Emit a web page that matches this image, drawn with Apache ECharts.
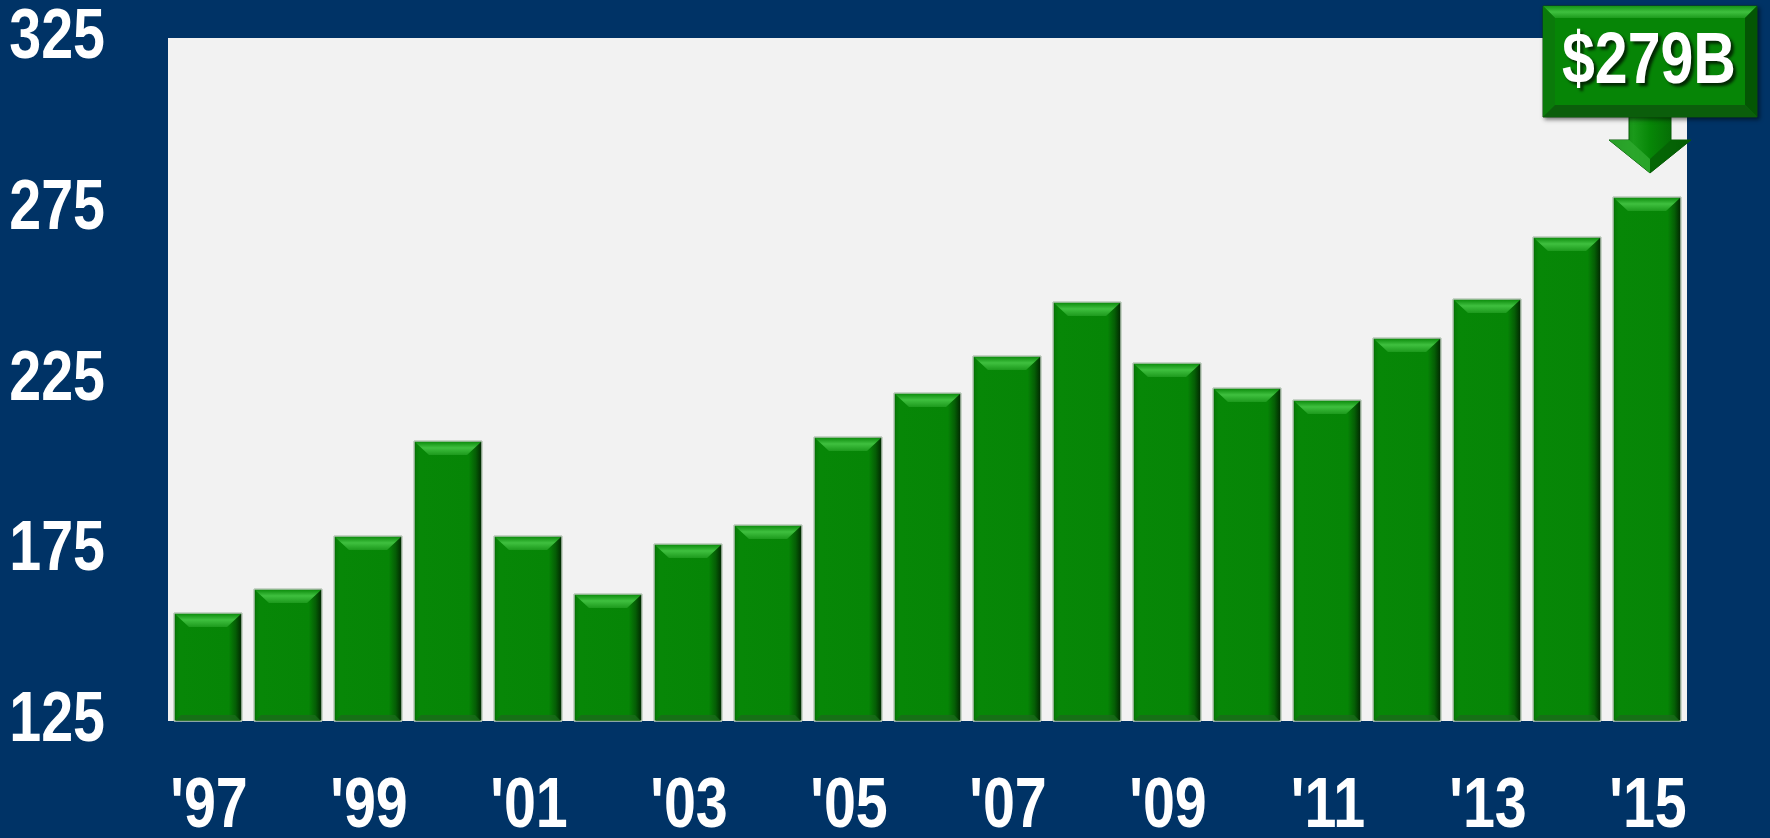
<!DOCTYPE html>
<html>
<head>
<meta charset="utf-8">
<script src="https://cdn.jsdelivr.net/npm/echarts@6/dist/echarts.min.js"></script>
<style>
html,body{margin:0;padding:0;background:#003366;}
#chart{width:1770px;height:838px;}
</style>
</head>
<body>
<div id="chart"></div>
<script>
const years = ["'97","'98","'99","'00","'01","'02","'03","'04","'05","'06","'07","'08","'09","'10","'11","'12","'13","'14","'15"];
const values = [156.5, 163.6, 179.1, 207.1, 179.1, 162.1, 176.7, 182.5, 208.1, 221.1, 231.8, 247.8, 229.7, 222.4, 219.0, 237.2, 248.5, 266.6, 278.5];
const yTicks = [125, 175, 225, 275, 325];
const calloutLabel = '$279B';

const FONT = "'Liberation Sans','Arimo',Arial,sans-serif";
const NARROW = 0.82; // Arial Narrow ≈ Arial condensed horizontally
const chart = echarts.init(document.getElementById('chart'), null, {renderer:'canvas'});

function barShapes(x0, x1, yTop, yBot) {
  const w = x1 - x0, h = yBot - yTop;
  const b = Math.min(14, h / 2);
  const bb = Math.min(6, h / 4);
  return [
    {type:'rect', shape:{x:x0, y:yTop, width:w, height:h},
     style:{fill:new echarts.graphic.LinearGradient(0,0,1,0,[
       {offset:0,color:'#045a04'},{offset:0.04,color:'#067e06'},{offset:0.09,color:'#078707'},
       {offset:0.80,color:'#068506'},{offset:0.90,color:'#055e05'},{offset:1,color:'#011f01'}]),
       stroke:'#b9c9b9', lineWidth:1}},
    {type:'polygon', shape:{points:[[x0+1,yTop+1],[x1-1,yTop+1],[x1-1-b,yTop+b],[x0+1+b,yTop+b]]},
     style:{fill:new echarts.graphic.LinearGradient(0,0,0,1,[
       {offset:0,color:'#0f8f0f'},{offset:0.45,color:'#3fc03f'},{offset:1,color:'#1d9a1d'}])}},
    {type:'polygon', shape:{points:[[x0+1,yBot],[x1-1,yBot],[x1-1-bb,yBot-bb],[x0+1+bb,yBot-bb]]},
     style:{fill:'#1a6a1a', opacity:0.8}}
  ];
}

const option = {
  backgroundColor:'#003366',
  animation:false,
  grid:{left:168, right:83, top:38, bottom:117, show:true, backgroundColor:'#f2f2f2', borderWidth:0,
        containLabel:false, outerBoundsMode:'none'},
  xAxis:{
    type:'category', data:years,
    axisLine:{show:false}, axisTick:{show:false}, splitLine:{show:false},
    axisLabel:{show:false}
  },
  yAxis:{
    type:'value', min:125, max:325, interval:50,
    axisLine:{show:false}, axisTick:{show:false}, splitLine:{show:false},
    axisLabel:{show:false}
  },
  series:[{
    type:'custom',
    data: values.map(function(v,i){ return [i, v]; }),
    encode:{x:0, y:1},
    renderItem:function(params, api){
      const top = api.coord([api.value(0), api.value(1)]);
      const bot = api.coord([api.value(0), 125]);
      const w = api.size([1,0])[0] * 0.85;
      const x0 = Math.round(top[0] - w/2), x1 = Math.round(top[0] + w/2);
      return {type:'group', children: barShapes(x0, x1, Math.round(top[1]), Math.round(bot[1]))};
    }
  }]
};
chart.setOption(option);

const graphics = [];
// y tick labels (condensed bold, like Arial Narrow Bold)
yTicks.forEach(function(v){
  const y = chart.convertToPixel({yAxisIndex:0}, v);
  graphics.push({type:'text', x:105, y:Math.round(y) + 1, scaleX:NARROW, z:40,
    style:{text:String(v), fill:'#ffffff', font:'bold 70px ' + FONT, align:'right', verticalAlign:'middle'}});
});
// x category labels, every other year
years.forEach(function(c, i){
  if (i % 2 !== 0) return;
  const x = chart.convertToPixel({xAxisIndex:0}, c);
  graphics.push({type:'text', x:Math.round(x) + 1, y:808, scaleX:NARROW, z:40,
    style:{text:c, fill:'#ffffff', font:'bold 70px ' + FONT, align:'center', verticalAlign:'middle'}});
});

// callout over the last bar
const li = values.length - 1;
const p = chart.convertToPixel({xAxisIndex:0, yAxisIndex:0}, [li, values[li]]);
const cx = Math.round(p[0]) + 3, barTop = p[1];
const bw = 214, bh = 111;
const bx = cx - bw/2, by = Math.round(barTop - 80 - bh);
const tipY = Math.round(barTop - 24);
const bev = 12;
graphics.push(
    {type:'polygon', z:50,
     shape:{points:[[cx-21,by+bh-14],[cx+21,by+bh-14],[cx+21,tipY-33],[cx+41,tipY-33],[cx,tipY],[cx-41,tipY-33],[cx-21,tipY-33]]},
     style:{fill:new echarts.graphic.LinearGradient(0,0,1,0,[
       {offset:0,color:'#0a6a0a'},{offset:0.3,color:'#1a9a1a'},{offset:0.5,color:'#078707'},{offset:0.8,color:'#056a05'},{offset:1,color:'#034503'}]),
       stroke:'#0a5a0a', lineWidth:1}},
    {type:'polygon', z:51, shape:{points:[[cx-41,tipY-33],[cx-21,tipY-33],[cx,tipY-14],[cx,tipY]]},
     style:{fill:'#2faa2f', opacity:0.8}},
    {type:'polygon', z:51, shape:{points:[[cx+41,tipY-33],[cx+21,tipY-33],[cx,tipY-14],[cx,tipY]]},
     style:{fill:'#056005', opacity:0.8}},
    {type:'rect', z:52, shape:{x:bx, y:by, width:bw, height:bh},
     style:{fill:'#068506', stroke:'#0d4f0d', lineWidth:1, shadowBlur:4, shadowColor:'rgba(0,0,0,0.5)', shadowOffsetX:2, shadowOffsetY:2}},
    {type:'polygon', z:53, shape:{points:[[bx,by],[bx+bw,by],[bx+bw-bev,by+bev],[bx+bev,by+bev]]},
     style:{fill:new echarts.graphic.LinearGradient(0,0,0,1,[{offset:0,color:'#159515'},{offset:0.5,color:'#3fc03f'},{offset:1,color:'#1d9a1d'}])}},
    {type:'polygon', z:53, shape:{points:[[bx+bw,by],[bx+bw,by+bh],[bx+bw-bev,by+bh-bev],[bx+bw-bev,by+bev]]},
     style:{fill:'#045604'}},
    {type:'polygon', z:53, shape:{points:[[bx,by],[bx,by+bh],[bx+bev,by+bh-bev],[bx+bev,by+bev]]},
     style:{fill:'#0a7a0a'}},
    {type:'polygon', z:53, shape:{points:[[bx,by+bh],[bx+bw,by+bh],[bx+bw-bev,by+bh-bev],[bx+bev,by+bh-bev]]},
     style:{fill:'#0b5e0b'}},
    {type:'text', z:60, x:cx - 1, y:by + bh/2 + 2, scaleX:NARROW,
     style:{text:calloutLabel, fill:'#ffffff', font:'bold 72px ' + FONT, align:'center', verticalAlign:'middle',
       textShadowColor:'rgba(0,0,0,0.7)', textShadowBlur:3, textShadowOffsetX:3, textShadowOffsetY:3}}
);
chart.setOption({graphic: graphics});
</script>
</body>
</html>
